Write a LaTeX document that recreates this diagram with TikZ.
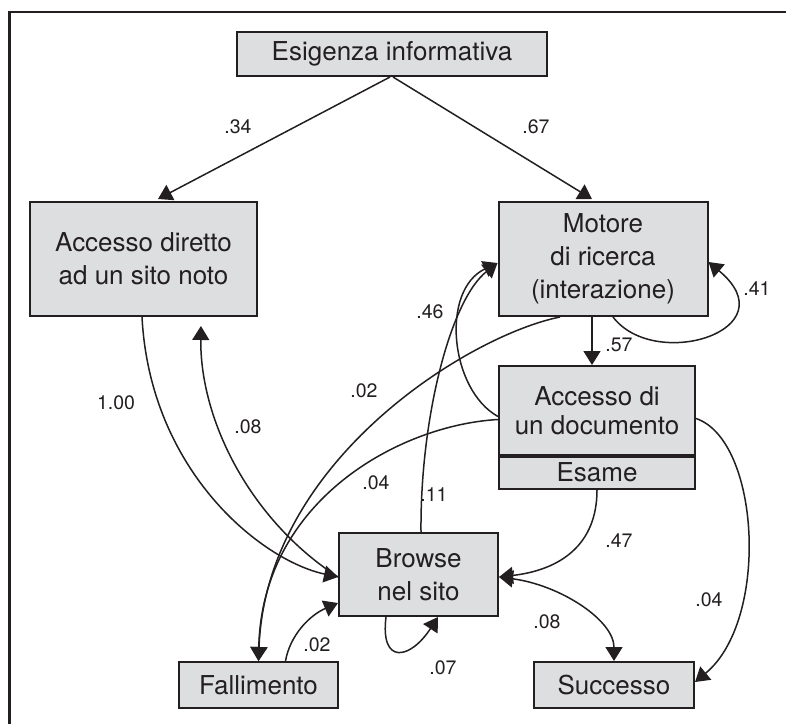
\documentclass[tikz,border=0pt]{standalone}
\usepackage{fontspec}
\setmainfont{TeX Gyre Heros}
\usetikzlibrary{arrows.meta}
\definecolor{boxfill}{RGB}{221,222,224}
\definecolor{ink}{RGB}{35,31,32}

\begin{document}
\begin{tikzpicture}[x=1pt,y=-1pt,line width=1.5pt,color=ink,
    box/.style={draw,line width=2pt,fill=boxfill,align=center,inner sep=0pt,font=\fontsize{26}{33}\selectfont},
    lbl/.style={inner sep=0pt,font=\fontsize{19.5}{22}\selectfont},
    arr/.style={-{Triangle[length=14pt,width=17pt]}},
    barr/.style={{Triangle[length=14pt,width=17pt]}-{Triangle[length=14pt,width=17pt]}}]
        \useasboundingbox (0,0) rectangle (786,724);
        \draw[line width=2.5pt] (9.5,724) -- (9.5,12) -- (786,12);
        % boxes
        \node[box,minimum width=310,minimum height=44] (esig) at (392,54) {Esigenza informativa};
        \node[box,minimum width=227,minimum height=114] (diretto) at (143.5,259) {Accesso diretto\\ad un sito noto};
        \node[box,minimum width=209,minimum height=114] (motore) at (603,259) {Motore\\di ricerca\\(interazione)};
        \node[box,minimum width=196,minimum height=89,font=\fontsize{26}{29}\selectfont] (doc) at (597,410.5) {Accesso di\\un documento};
        \node[box,minimum width=196,minimum height=34] (esame) at (597,472) {Esame};
        \draw[line width=3.5pt] (doc.south west) -- (doc.south east);
        \node[box,minimum width=159,minimum height=83] (browse) at (418.5,574.5) {Browse\\nel sito};
        \node[box,minimum width=159,minimum height=46] (fall) at (258.5,685) {Fallimento};
        \node[box,minimum width=160,minimum height=46] (succ) at (614,685) {Successo};
        % probabilities
        \node[lbl] (p34) at (238,127) {.34};
        \node[lbl] (p67) at (536,127) {.67};
        \node[lbl] (p41) at (757,289) {.41};
        \node[lbl] (p57) at (619,345) {.57};
        \node[lbl] (p46) at (430,312) {.46};
        \node[lbl] (p02a) at (364,391) {.02};
        \node[lbl] (p100) at (116,403) {1.00};
        \node[lbl] (p08a) at (248,427) {.08};
        \node[lbl] (p04a) at (376,483) {.04};
        \node[lbl] (p11) at (434,495) {.11};
        \node[lbl] (p47) at (619,541) {.47};
        \node[lbl] (p04b) at (709,600) {.04};
        \node[lbl] (p08b) at (547,622) {.08};
        \node[lbl] (p02b) at (317,645) {.02};
        \node[lbl] (p07) at (443,668) {.07};
        % transitions
        \draw[arr] ([xshift=-2pt]esig.south) -- ([xshift=14.5pt,yshift=2pt]diretto.north);
        \draw[arr] ([xshift=1pt]esig.south) -- ([xshift=-11pt,yshift=2pt]motore.north);
        \draw[arr] ([xshift=10pt]motore.south) .. controls (655,372) and (790,330) .. ([yshift=-3pt]motore.east);
        \draw[arr] ([xshift=-11pt]motore.south) -- ([xshift=-5pt]doc.north);
        \draw[arr] ([xshift=-43pt]motore.south) .. controls (470,335) and (266,460) .. (fall.north);
        \draw[arr] ([yshift=-9pt]doc.west) .. controls (400,425) and (262,500) .. (fall.north);
        \draw[arr] ([yshift=-6pt]doc.west) .. controls (450,390) and (440,290) .. ([yshift=-4pt]motore.west);
        \draw[arr] ([xshift=2.5pt]browse.north) .. controls (420,420) and (450,300) .. ([yshift=-4pt]motore.west);
        \draw[arr] ([xshift=-1.5pt]diretto.south) .. controls (150,470) and (260,560) .. ([yshift=-2.5pt]browse.west);
        \draw[arr,shorten >=9pt] ([yshift=-2.5pt]browse.west) .. controls (250,520) and (200,420) .. ([xshift=57.5pt]diretto.south);
        \draw[arr] ([xshift=27pt]fall.north) .. controls (290,635) and (310,615) .. ([yshift=-28.5pt]browse.west);
        \draw[arr] ([xshift=-32.5pt]browse.south) .. controls (380,665) and (410,660) .. ([xshift=19.5pt]browse.south);
        \draw[arr] (esame.south) .. controls (597,545) and (560,570) .. ([yshift=-2.5pt]browse.east);
        \draw[barr] ([yshift=-2.5pt]browse.east) .. controls (560,585) and (614,620) .. (succ.north);
        \draw[arr] ([yshift=-8pt]doc.east) .. controls (760,440) and (770,620) .. ([yshift=3pt]succ.east);
\end{tikzpicture}
\end{document}
